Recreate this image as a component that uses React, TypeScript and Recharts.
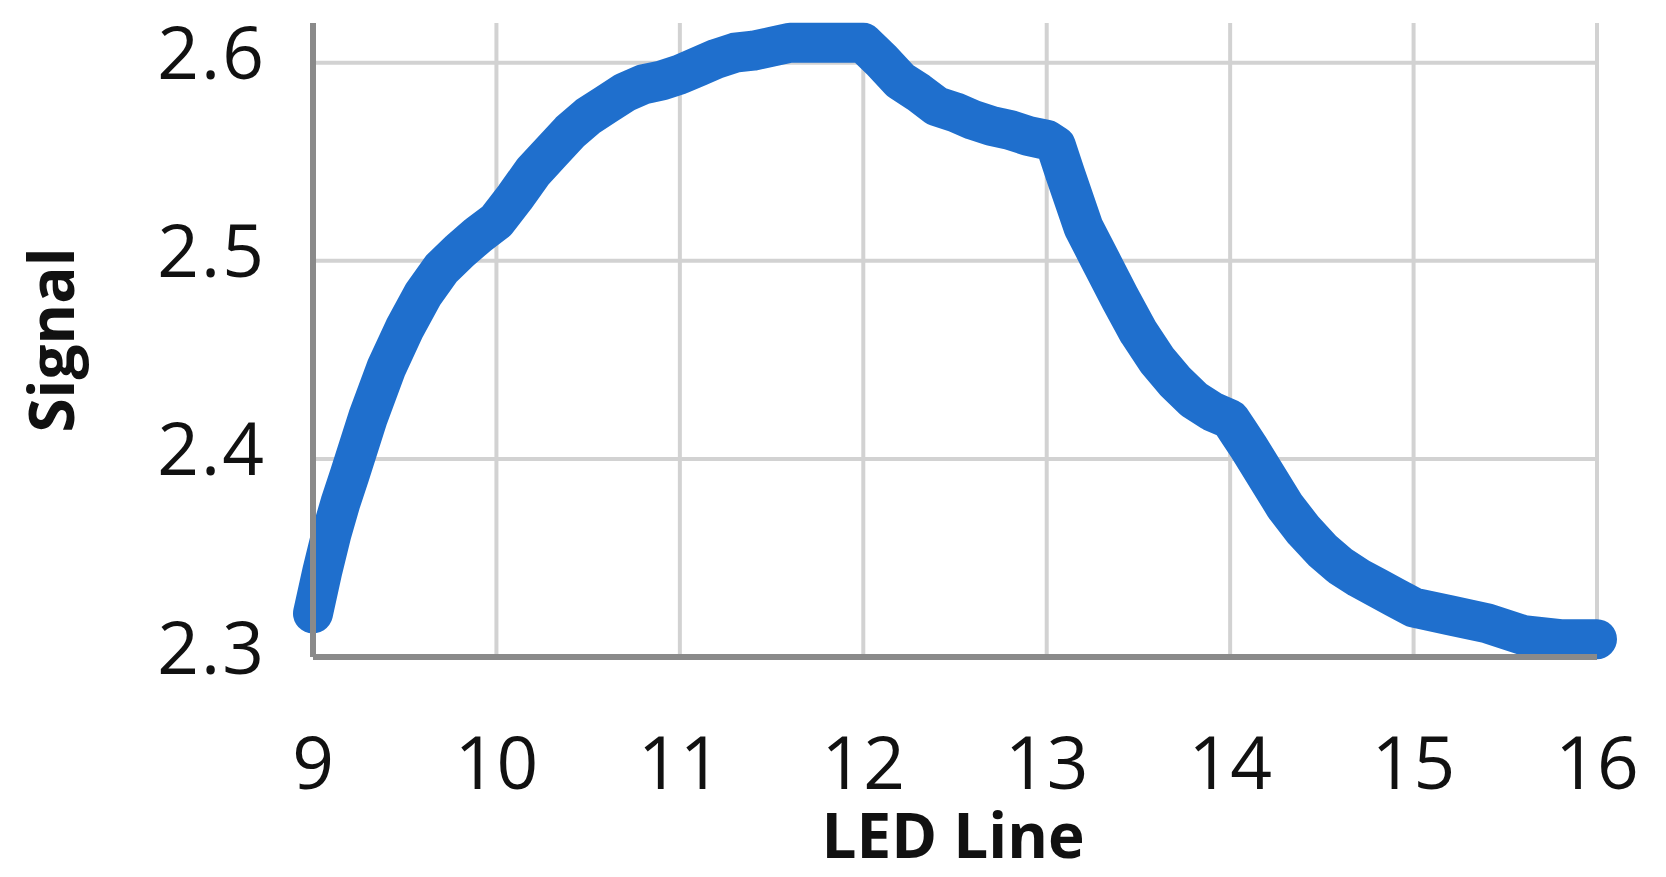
import { LineChart, Line, XAxis, YAxis, CartesianGrid, Label } from "recharts";

const ledLine = [
  9.0, 9.05, 9.1, 9.15, 9.2, 9.3, 9.4, 9.5, 9.6, 9.7, 9.8, 9.9,
  10.0, 10.1, 10.2, 10.3, 10.4, 10.5, 10.6, 10.7, 10.8, 10.9,
  11.0, 11.1, 11.2, 11.3, 11.4, 11.5, 11.6, 11.7, 11.8, 11.9,
  12.0, 12.1, 12.2, 12.3, 12.4, 12.5, 12.6, 12.7, 12.8, 12.9,
  13.0, 13.05, 13.1, 13.2, 13.3, 13.4, 13.5, 13.6, 13.7, 13.8, 13.9,
  14.0, 14.05, 14.1, 14.2, 14.3, 14.4, 14.5, 14.6, 14.7, 14.8, 14.9,
  15.0, 15.2, 15.4, 15.6, 15.8, 16.0,
];
const signal = [
  2.322, 2.343, 2.362, 2.378, 2.392, 2.421, 2.446, 2.466, 2.483, 2.496, 2.505, 2.513,
  2.52, 2.532, 2.545, 2.555, 2.565, 2.573, 2.579, 2.585, 2.589, 2.591,
  2.594, 2.598, 2.602, 2.605, 2.606, 2.608, 2.61, 2.61, 2.61, 2.61,
  2.61, 2.601, 2.591, 2.585, 2.578, 2.575, 2.571, 2.568, 2.566, 2.563,
  2.561, 2.558, 2.544, 2.517, 2.499, 2.481, 2.464, 2.45, 2.439, 2.43, 2.424,
  2.42, 2.413, 2.406, 2.391, 2.376, 2.364, 2.354, 2.346, 2.34, 2.335, 2.33,
  2.325, 2.321, 2.317, 2.311, 2.309, 2.309,
];

const xTicks = [9, 10, 11, 12, 13, 14, 15, 16];
const yTicks = [2.3, 2.4, 2.5, 2.6];

const data = ledLine.map((x, i) => ({ led: x, signal: signal[i] }));

const FONT = "'Open Sans', sans-serif";

const YTick = ({ y, payload }: any) => (
  <text
    x={266}
    y={y - 12}
    textAnchor="end"
    dominantBaseline="central"
    fontFamily={FONT}
    fontSize={73}
    letterSpacing={2}
    fill="#111"
  >
    {Number(payload.value).toFixed(1)}
  </text>
);

const XTick = ({ x, payload }: any) => (
  <text
    x={x}
    y={760}
    textAnchor="middle"
    dominantBaseline="central"
    fontFamily={FONT}
    fontSize={73}
    fill="#111"
  >
    {payload.value}
  </text>
);

export default function App() {
  return (
    <div style={{ position: "absolute", left: 0, top: 0, background: "#fff" }}>
      <LineChart
        width={1666}
        height={877}
        data={data}
        margin={{ top: 23, right: 69, bottom: 0, left: 0 }}
      >
        <CartesianGrid
          stroke="#d2d2d2"
          strokeWidth={4}
          horizontalValues={yTicks}
          verticalValues={xTicks}
        />
        <XAxis
          dataKey="led"
          type="number"
          domain={[9, 16]}
          ticks={xTicks}
          height={220}
          tickLine={false}
          axisLine={{ stroke: "#8a8a8a", strokeWidth: 6 }}
          tick={<XTick />}
        >
          <Label
            content={() => (
              <text
                x={953}
                y={834}
                textAnchor="middle"
                dominantBaseline="central"
                fontFamily={FONT}
                fontWeight="bold"
                fontSize={62}
                fill="#111"
              >
                LED Line
              </text>
            )}
          />
        </XAxis>
        <YAxis
          type="number"
          domain={[2.3, 2.62]}
          ticks={yTicks}
          width={313}
          tickLine={false}
          axisLine={{ stroke: "#8a8a8a", strokeWidth: 6 }}
          tick={<YTick />}
        >
          <Label
            content={() => (
              <text
                x={50}
                y={340}
                textAnchor="middle"
                dominantBaseline="central"
                transform="rotate(-90 50 340)"
                fontFamily={FONT}
                fontWeight="bold"
                fontSize={62}
                fill="#111"
              >
                Signal
              </text>
            )}
          />
        </YAxis>
        <Line
          type="linear"
          dataKey="signal"
          stroke="#1f6fcd"
          strokeWidth={40}
          strokeLinecap="round"
          strokeLinejoin="round"
          dot={false}
          isAnimationActive={false}
        />
      </LineChart>
    </div>
  );
}
